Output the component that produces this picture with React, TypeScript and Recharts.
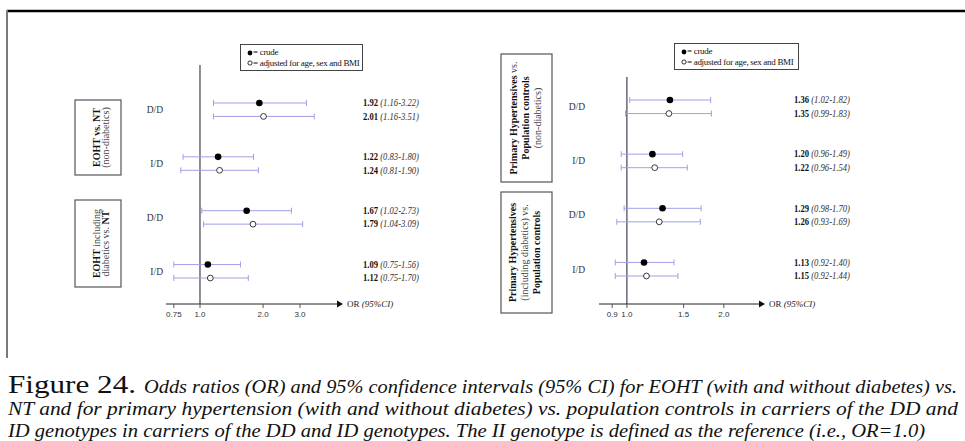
import React from "react";
import {
  ScatterChart,
  Scatter,
  XAxis,
  YAxis,
  ErrorBar,
  ReferenceLine,
  Legend,
} from "recharts";

// EOHT vs. NT (left panel)
const leftGenotypes = ["D/D", "I/D", "D/D", "I/D"];
const leftCrudeOR = [1.92, 1.22, 1.67, 1.09];
const leftCrudeLow = [1.16, 0.83, 1.02, 0.75];
const leftCrudeHigh = [3.22, 1.8, 2.73, 1.56];
const leftAdjOR = [2.01, 1.24, 1.79, 1.12];
const leftAdjLow = [1.16, 0.81, 1.04, 0.75];
const leftAdjHigh = [3.51, 1.9, 3.09, 1.7];
const leftTicks = [0.75, 1, 2, 3];
const leftTickLabels = ["0.75", "1.0", "2.0", "3.0"];

// Primary hypertensives vs. population controls (right panel)
const rightGenotypes = ["D/D", "I/D", "D/D", "I/D"];
const rightCrudeOR = [1.36, 1.2, 1.29, 1.13];
const rightCrudeLow = [1.02, 0.96, 0.98, 0.92];
const rightCrudeHigh = [1.82, 1.49, 1.7, 1.4];
const rightAdjOR = [1.35, 1.22, 1.26, 1.15];
const rightAdjLow = [0.99, 0.96, 0.93, 0.92];
const rightAdjHigh = [1.83, 1.54, 1.69, 1.44];
const rightTicks = [0.9, 1, 1.5, 2];
const rightTickLabels = ["0.9", "1.0", "1.5", "2.0"];

const SERIF = "Liberation Serif, Times New Roman, Times, Tinos, serif";
const SANS = "Liberation Sans, Arial, sans-serif";
const CI_COLOR = "#a0a0e6";

type Row = { row: number; or: number; lo: number; hi: number; err: [number, number] };

function buildRows(or: number[], lo: number[], hi: number[], offset: number): Row[] {
  return or.map((v, i) => ({
    row: i * 4 + offset,
    or: v,
    lo: lo[i],
    hi: hi[i],
    err: [v - lo[i], hi[i] - v],
  }));
}

type PanelProps = {
  width: number;
  height: number;
  margin: { top: number; right: number; bottom: number; left: number };
  xDomain: [number, number];
  yDomain: [number, number];
  ticks: number[];
  tickLabels: string[];
  genotypes: string[];
  crude: Row[];
  adjusted: Row[];
  labelGap: number;
  valueGap: number;
  legendLeft: number;
  legendTop: number;
  legendWidth: number;
};

function LegendBox({ width }: { width: number }) {
  return (
    <div
      style={{
        width,
        height: 27,
        border: "1px solid #444",
        boxSizing: "border-box",
        background: "#fff",
        fontFamily: SERIF,
        fontSize: 9,
        letterSpacing: -0.3,
        lineHeight: "10.5px",
        padding: "2px 0 0 6px",
        color: "#111",
        whiteSpace: "nowrap",
        overflow: "hidden",
      }}
    >
      <div>
        <svg width={6} height={6} style={{ verticalAlign: "middle" }}>
          <circle cx={3} cy={3} r={2.4} fill="#000" />
        </svg>
        = crude
      </div>
      <div>
        <svg width={6} height={6} style={{ verticalAlign: "middle" }}>
          <circle cx={3} cy={3} r={2.1} fill="#fff" stroke="#000" strokeWidth={0.8} />
        </svg>
        = adjusted for age, sex and BMI
      </div>
    </div>
  );
}

function ForestPanel(p: PanelProps) {
  const all = [...p.crude, ...p.adjusted];
  const byRow: Record<number, Row> = {};
  all.forEach((r) => (byRow[r.row] = r));
  const valueTicks = all.map((r) => r.row).sort((a, b) => a - b);
  const genoTicks = p.genotypes.map((_, i) => i * 4 + 0.5);

  return (
    <ScatterChart
      width={p.width}
      height={p.height}
      margin={p.margin}
      style={{ fontFamily: SERIF }}
    >
      <XAxis
        type="number"
        dataKey="or"
        scale="log"
        domain={p.xDomain}
        allowDataOverflow
        ticks={p.ticks}
        interval={0}
        tickFormatter={(v: number) => p.tickLabels[p.ticks.indexOf(v)] ?? String(v)}
        tick={{ fontSize: 8, fill: "#333", fontFamily: SANS }}
        tickSize={4}
        tickMargin={3}
        height={30}
        axisLine={{ stroke: "#222", strokeWidth: 1 }}
        tickLine={{ stroke: "#555" }}
        label={{
          content: (lp: any) => {
            const vb = lp.viewBox || {};
            const ex = vb.x + vb.width;
            const ey = vb.y;
            return (
              <g>
                <polygon
                  points={`${ex - 1},${ey - 3.5} ${ex + 5},${ey} ${ex - 1},${ey + 3.5}`}
                  fill="#111"
                />
                <text x={ex + 9} y={ey + 3} fontSize={9} fontFamily={SERIF} fill="#222">
                  OR <tspan fontStyle="italic">(95%CI)</tspan>
                </text>
              </g>
            );
          },
        }}
      />
      <YAxis
        yAxisId="left"
        type="number"
        dataKey="row"
        domain={p.yDomain}
        allowDataOverflow
        reversed
        ticks={genoTicks}
        interval={0}
        axisLine={false}
        tickLine={false}
        tickSize={0}
        tickMargin={p.labelGap}
        width={30}
        tick={(tp: any) => {
          const idx = Math.round((tp.payload.value - 0.5) / 4);
          return (
            <text
              x={tp.x}
              y={tp.y}
              dy="0.35em"
              textAnchor="end"
              fontSize={9.5}
              fontFamily={SERIF}
              fill="#333"
            >
              {p.genotypes[idx]}
            </text>
          );
        }}
      />
      <YAxis
        yAxisId="right"
        orientation="right"
        type="number"
        dataKey="row"
        domain={p.yDomain}
        allowDataOverflow
        reversed
        ticks={valueTicks}
        interval={0}
        axisLine={false}
        tickLine={false}
        tickSize={0}
        tickMargin={p.valueGap}
        width={100}
        tick={(tp: any) => {
          const r = byRow[tp.payload.value];
          if (!r) return <g />;
          return (
            <text
              x={tp.x}
              y={tp.y}
              dy="0.35em"
              textAnchor="start"
              fontSize={9.5}
              fontFamily={SERIF}
              fill="#111"
              textLength={56}
              lengthAdjust="spacingAndGlyphs"
            >
              <tspan fontWeight="bold">{r.or.toFixed(2)}</tspan>
              <tspan fontStyle="italic" fill="#333">
                {" (" + r.lo.toFixed(2) + "-" + r.hi.toFixed(2) + ")"}
              </tspan>
            </text>
          );
        }}
      />
      <ReferenceLine x={1} yAxisId="left" stroke="#1e1e33" strokeWidth={1} />
      <Scatter
        yAxisId="left"
        data={p.crude}
        isAnimationActive={false}
        shape={(sp: any) => <circle cx={sp.cx} cy={sp.cy} r={3.3} fill="#000" />}
      >
        <ErrorBar dataKey="err" direction="x" width={3} stroke={CI_COLOR} strokeWidth={1} isAnimationActive={false} />
      </Scatter>
      <Scatter
        yAxisId="right"
        data={p.adjusted}
        isAnimationActive={false}
        shape={(sp: any) => (
          <circle cx={sp.cx} cy={sp.cy} r={2.9} fill="#fff" stroke="#222" strokeWidth={0.9} />
        )}
      >
        <ErrorBar dataKey="err" direction="x" width={3} stroke={CI_COLOR} strokeWidth={1} isAnimationActive={false} />
      </Scatter>
      <Legend
        layout="horizontal"
        verticalAlign="middle"
        align="center"
        wrapperStyle={{ left: p.legendLeft, top: p.legendTop, width: p.legendWidth, height: 27 }}
        content={() => <LegendBox width={p.legendWidth} />}
      />
    </ScatterChart>
  );
}

function RotatedLines({
  cy,
  lines,
}: {
  cy: number;
  lines: { x: number; parts: { t: string; b?: boolean }[] }[];
}) {
  return (
    <g>
      {lines.map((ln, i) => (
        <text
          key={i}
          transform={`translate(${ln.x},${cy}) rotate(-90)`}
          textAnchor="middle"
          fontSize={10}
          fontFamily={SERIF}
          fill="#111"
        >
          {ln.parts.map((pt, j) => (
            <tspan key={j} fontWeight={pt.b ? "bold" : "normal"} fill={pt.b ? "#111" : "#444"}>
              {pt.t}
            </tspan>
          ))}
        </text>
      ))}
    </g>
  );
}

export default function App() {
  const leftCrude = buildRows(leftCrudeOR, leftCrudeLow, leftCrudeHigh, 0);
  const leftAdj = buildRows(leftAdjOR, leftAdjLow, leftAdjHigh, 1);
  const rightCrude = buildRows(rightCrudeOR, rightCrudeLow, rightCrudeHigh, 0);
  const rightAdj = buildRows(rightAdjOR, rightAdjLow, rightAdjHigh, 1);

  return (
    <div
      style={{
        position: "absolute",
        left: 0,
        top: 0,
        width: 965,
        height: 441,
        background: "#fff",
        overflow: "hidden",
        fontFamily: SERIF,
      }}
    >
      <svg
        width={965}
        height={441}
        style={{ position: "absolute", left: 0, top: 0, fontFamily: SERIF }}
      >
        <line x1={7} y1={11} x2={965} y2={11} stroke="#000" strokeWidth={2.5} />
        <line x1={7} y1={10} x2={7} y2={358} stroke="#7a7a7a" strokeWidth={2} />

        {/* left group boxes */}
        <rect x={75} y={100} width={46} height={75} fill="none" stroke="#555" strokeWidth={1.2} />
        <RotatedLines
          cy={137.5}
          lines={[
            { x: 100, parts: [{ t: "EOHT vs. NT", b: true }] },
            { x: 109, parts: [{ t: "(non-diabetics)" }] },
          ]}
        />
        <rect x={75} y={200} width={46} height={87} fill="none" stroke="#555" strokeWidth={1.2} />
        <RotatedLines
          cy={243.5}
          lines={[
            { x: 100, parts: [{ t: "EOHT", b: true }, { t: " including" }] },
            { x: 109, parts: [{ t: "diabetics vs. " }, { t: "NT", b: true }] },
          ]}
        />

        {/* right group boxes */}
        <rect x={501} y={54} width={51} height={128} fill="none" stroke="#555" strokeWidth={1.2} />
        <RotatedLines
          cy={118}
          lines={[
            { x: 517, parts: [{ t: "Primary Hypertensives", b: true }, { t: " vs." }] },
            { x: 529, parts: [{ t: "Population controls", b: true }] },
            { x: 541, parts: [{ t: "(non-diabetics)" }] },
          ]}
        />
        <rect x={501} y={192} width={51} height={121} fill="none" stroke="#555" strokeWidth={1.2} />
        <RotatedLines
          cy={252.5}
          lines={[
            { x: 516, parts: [{ t: "Primary Hypertensives", b: true }] },
            { x: 528, parts: [{ t: "(including diabetics) vs." }] },
            { x: 540, parts: [{ t: "Population controls", b: true }] },
          ]}
        />

        {/* caption */}
        <text x={8} y={393} fontSize={25} fontFamily={SERIF} fill="#111" textLength={128} lengthAdjust="spacingAndGlyphs">
          Figure 24.
        </text>
        <text
          x={144}
          y={393}
          fontSize={19.5}
          fontStyle="italic"
          fontFamily={SERIF}
          fill="#111"
          textLength={813}
          lengthAdjust="spacingAndGlyphs"
        >
          Odds ratios (OR) and 95% confidence intervals (95% CI) for EOHT (with and without diabetes) vs.
        </text>
        <text
          x={8}
          y={415}
          fontSize={19.5}
          fontStyle="italic"
          fontFamily={SERIF}
          fill="#111"
          textLength={950}
          lengthAdjust="spacingAndGlyphs"
        >
          NT and for primary hypertension (with and without diabetes) vs. population controls in carriers of the DD and
        </text>
        <text
          x={8}
          y={437}
          fontSize={19.5}
          fontStyle="italic"
          fontFamily={SERIF}
          fill="#111"
          textLength={917}
          lengthAdjust="spacingAndGlyphs"
        >
          ID genotypes in carriers of the DD and ID genotypes. The II genotype is defined as the reference (i.e., OR=1.0)
        </text>
      </svg>

      <div style={{ position: "absolute", left: 0, top: 0 }}>
        <ForestPanel
          width={480}
          height={340}
          margin={{ top: 65, right: 42, bottom: 6, left: 136 }}
          xDomain={[0.6883, 4.556]}
          yDomain={[-2.82, 14.93]}
          ticks={leftTicks}
          tickLabels={leftTickLabels}
          genotypes={leftGenotypes}
          crude={leftCrude}
          adjusted={leftAdj}
          labelGap={3}
          valueGap={25}
          legendLeft={240}
          legendTop={44}
          legendWidth={123}
        />
      </div>
      <div style={{ position: "absolute", left: 480, top: 0 }}>
        <ForestPanel
          width={485}
          height={340}
          margin={{ top: 77, right: 105, bottom: 6, left: 89 }}
          xDomain={[0.819, 2.59]}
          yDomain={[-1.7, 15.07]}
          ticks={rightTicks}
          tickLabels={rightTickLabels}
          genotypes={rightGenotypes}
          crude={rightCrude}
          adjusted={rightAdj}
          labelGap={14}
          valueGap={34}
          legendLeft={194}
          legendTop={43}
          legendWidth={125}
        />
      </div>
    </div>
  );
}
